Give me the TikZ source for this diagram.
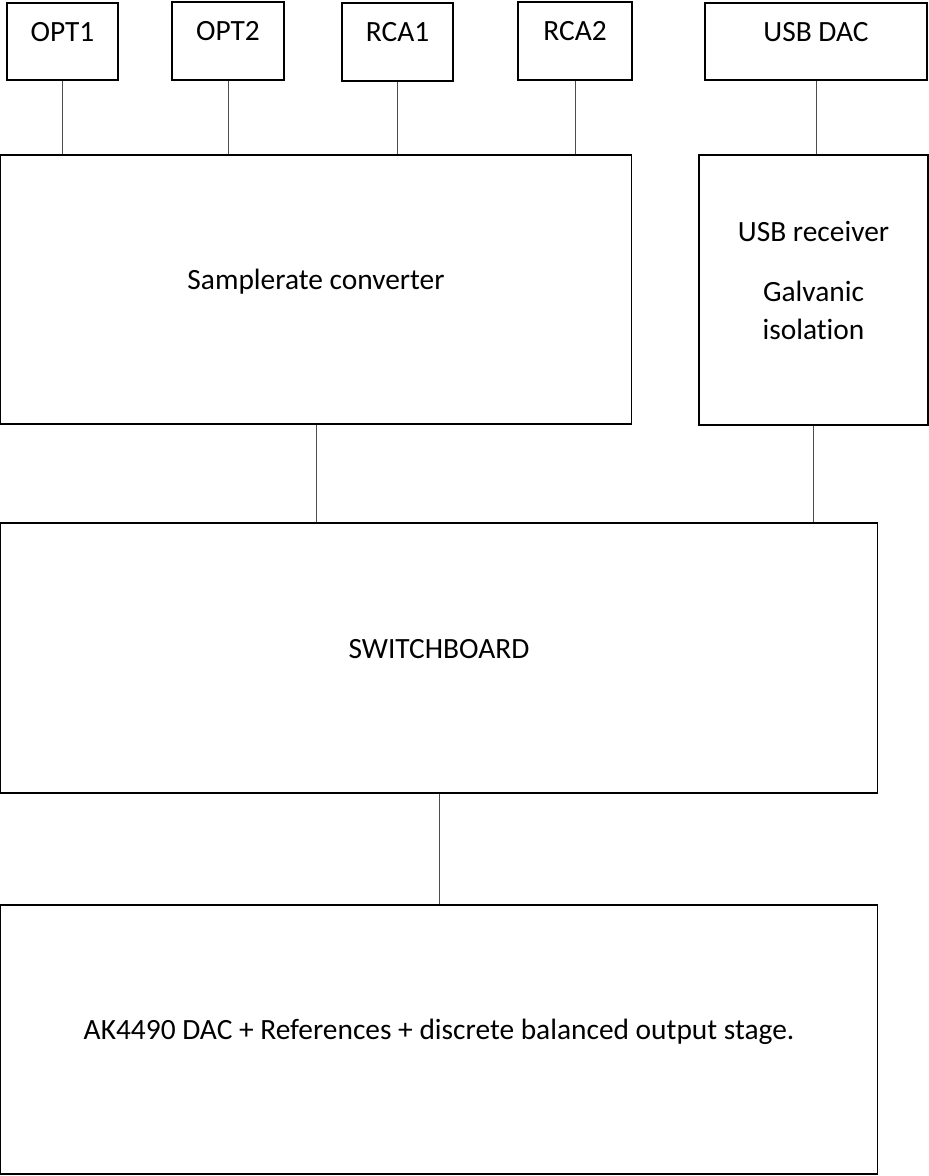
\documentclass[tikz,border=0pt]{standalone}
\usepackage{fontspec}
\setmainfont{Carlito}[Ligatures=NoCommon]
\tikzset{
	blk/.style={draw, line width=0.75pt, text height=4pt, text depth=4pt, inner sep=0pt},
	sz/.style 2 args={minimum width=#1*0.5pt, minimum height=#2*0.5pt},
	wire/.style={black!70, line width=0.5pt},
}
\begin{document}
\begin{tikzpicture}[x=0.5pt, y=-0.5pt, font=\fontsize{14.7}{19}\selectfont]
	\useasboundingbox (0,0) rectangle (929,1176);
	% inputs
	\node [blk, sz={111}{77}] (opt1) at (62.5,41.5) {OPT1};
	\node [blk, sz={112}{78}] (opt2) at (228,41) {OPT2};
	\node [blk, sz={111}{78}] (rca1) at (397.5,42) {RCA1};
	\node [blk, sz={114}{78}] (rca2) at (575,41) {RCA2};
	\node [blk, sz={222}{77}] (usbdac) at (816,41.5) {USB DAC};
	% processing
	\node [blk, sz={631}{269}] (src) at (316,289.5) {Samplerate converter};
	\node [blk, sz={229}{270}] (usbrx) at (813.5,290) {};
	\node [align=center] (usbtxt) at ([yshift=5pt]usbrx.center) {USB receiver\\[11pt]Galvanic\\isolation};
	\node [blk, sz={877}{270}] (sw) at (439,658) {SWITCHBOARD};
	\node [blk, sz={877}{269}] (dac) at (439,1039.5) {AK4490 DAC + References + discrete balanced output stage.};
	% connections
	\foreach \n in {opt1,opt2,rca1,rca2}
		\draw [wire] (\n) -- (\n |- src.north);
	\draw [wire] (usbdac) -- (usbdac |- usbrx.north);
	\draw [wire] (src) -- (src |- sw.north);
	\draw [wire] (usbrx) -- (usbrx |- sw.north);
	\draw [wire] (sw) -- (dac);
\end{tikzpicture}
\end{document}
